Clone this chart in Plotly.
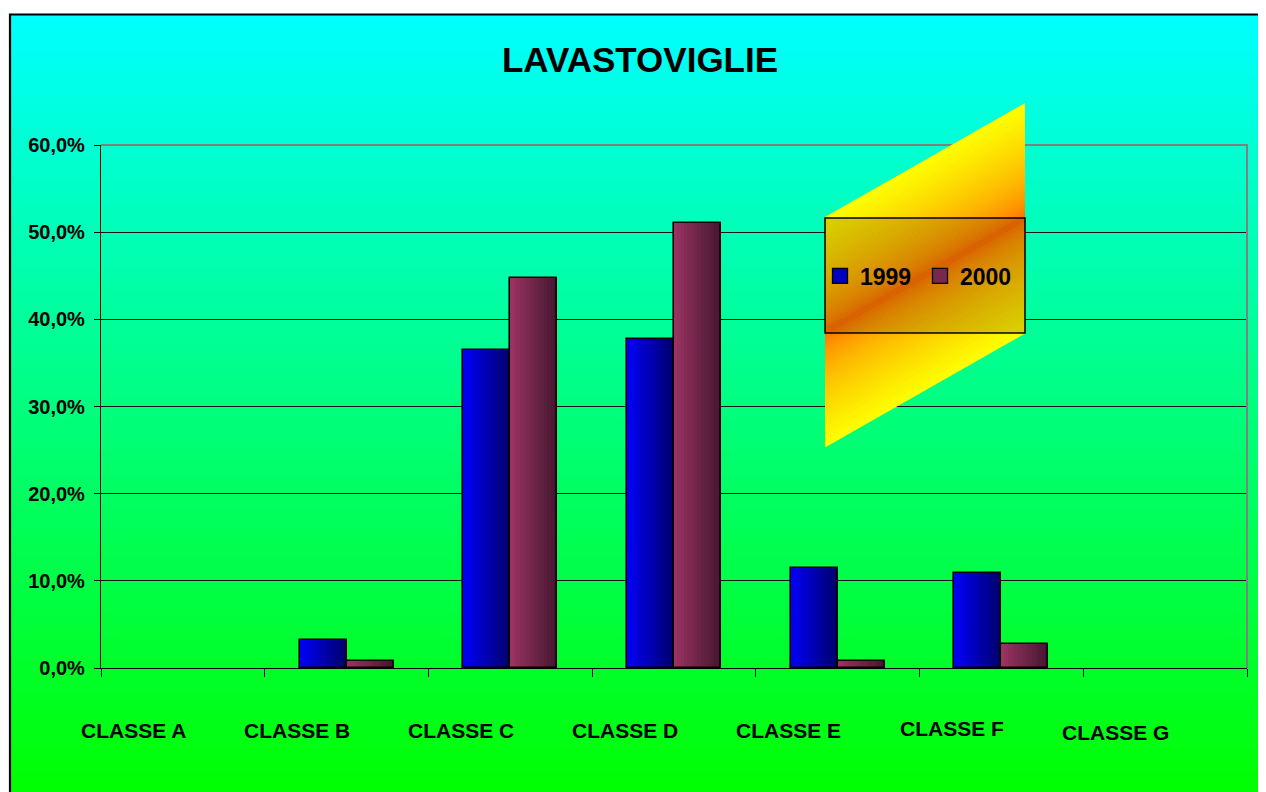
import plotly.graph_objects as go

# ---------------- data ----------------
categories = ["CLASSE A", "CLASSE B", "CLASSE C", "CLASSE D", "CLASSE E", "CLASSE F", "CLASSE G"]
series_names = ["1999", "2000"]
values_1999 = [0.0, 3.2, 36.5, 37.8, 11.5, 10.9, 0.0]
values_2000 = [0.0, 0.8, 44.7, 51.0, 0.8, 2.8, 0.0]
y_tick_values = [0, 10, 20, 30, 40, 50, 60]
title_text = "LAVASTOVIGLIE"

# ---------------- geometry / style ----------------
OFF = 8  # page body margin
W, H = 1266 - OFF, 792 - OFF
ML, MR, MT, MB = 101 - OFF, 19, 145 - OFF, 124
PW, PH = W - ML - MR, H - MT - MB


def px(x):  # reference screen x -> paper
    return (x - OFF - ML) / PW


def py(y):  # reference screen y -> paper
    return (H - MB - (y - OFF)) / PH


FONT = "Liberation Sans, Arial, sans-serif"

fig = go.Figure()

# --- bars with horizontal gradient (strips) ---
bar_w = 0.287
N_STRIPS = 14
series = [
    (values_1999, (0, 0, 250), (0, 0, 105), -bar_w),
    (values_2000, (155, 52, 100), (68, 22, 46), 0.0),
]


def mix(c0, c1, t):
    return "rgb(%d,%d,%d)" % tuple(round(a + (b - a) * t) for a, b in zip(c0, c1))


for vals, c0, c1, base in series:
    yv = [v if v else None for v in vals]
    for k in range(N_STRIPS):
        t = (k + 0.5) / N_STRIPS
        extra = 0.004 if k < N_STRIPS - 1 else 0.0
        fig.add_bar(
            x=categories, y=yv,
            width=bar_w / N_STRIPS + extra,
            offset=base + k * bar_w / N_STRIPS,
            marker=dict(color=mix(c0, c1, t), line=dict(width=0)),
            showlegend=False, hoverinfo="skip",
        )
    fig.add_bar(
        x=categories, y=yv, width=bar_w, offset=base,
        marker=dict(color="rgba(0,0,0,0)", line=dict(color="black", width=1.6)),
        showlegend=False, hoverinfo="skip",
    )

# legend entries
for name, (vals, c0, c1, base) in zip(series_names, series):
    fig.add_scatter(
        x=[None], y=[None], name=name, mode="markers",
        marker=dict(symbol="square", size=15, color=mix(c0, c1, 0.4),
                    line=dict(color="black", width=1.3)),
        showlegend=True,
    )

shapes = []

# --- background vertical gradient (cyan -> green) ---
NB = 130
top_px, bot_px = 14, 794
for i in range(NB):
    y0 = top_px + (bot_px - top_px) * i / NB
    y1 = top_px + (bot_px - top_px) * (i + 1) / NB + 0.8
    t = (i + 0.5) / NB
    blue = round(255 * (1 - t))
    shapes.append(dict(
        type="rect", xref="paper", yref="paper",
        x0=px(10), x1=px(1280), y0=py(y1), y1=py(y0),
        fillcolor="rgb(0,255,%d)" % blue, line=dict(width=0), layer="below",
    ))

# outer chart frame (left + top edges visible)
shapes.append(dict(
    type="path", xref="paper", yref="paper",
    path="M %f,%f L %f,%f L %f,%f" % (px(10), py(800), px(10), py(14.5), px(1280), py(14.5)),
    line=dict(color="black", width=2.2), layer="below",
))

# plot area border top/right in grey
shapes.append(dict(
    type="path", xref="paper", yref="paper",
    path="M 0,1 L 1,1 L 1,0",
    line=dict(color="#808080", width=2), layer="above",
))

# --- yellow/orange parallelogram behind legend ---
NP = 60
pl, pr = 825, 1025
top_l, top_r, span = 217, 103, 230
for k in range(NP):
    d0 = span * k / NP
    d1 = span * (k + 1) / NP + 0.6
    t = (k + 0.5) / NP
    c = abs(t - 0.5) * 2
    g = round(100 + 155 * min(1.0, c ** 0.6))
    path = "M %f,%f L %f,%f L %f,%f L %f,%f Z" % (
        px(pl), py(top_l + d0), px(pr), py(top_r + d0),
        px(pr), py(top_r + d1), px(pl), py(top_l + d1))
    shapes.append(dict(
        type="path", xref="paper", yref="paper", path=path,
        fillcolor="rgb(255,%d,0)" % g, line=dict(width=0), layer="above",
    ))

# legend box
shapes.append(dict(
    type="rect", xref="paper", yref="paper",
    x0=px(825), x1=px(1025), y0=py(333), y1=py(218),
    fillcolor="rgba(70,40,0,0.2)", line=dict(color="black", width=1.5), layer="above",
))

# --- category labels (offset to the left as in the original) ---
label_dy = {"CLASSE F": -2, "CLASSE G": 2}
annotations = []
for cat in categories:
    annotations.append(dict(
        x=cat, xref="x", y=py(730 + label_dy.get(cat, 0)), yref="paper",
        text=cat, showarrow=False, xshift=-49.5, yanchor="middle",
        font=dict(family=FONT, size=21, color="black", weight="bold"),
    ))

tick_text = [("%.1f%%" % v).replace(".", ",") for v in y_tick_values]

fig.update_layout(
    width=W, height=H,
    margin=dict(l=ML, r=MR, t=MT, b=MB),
    paper_bgcolor="white",
    plot_bgcolor="rgba(0,0,0,0)",
    barmode="overlay",
    bargap=0,
    title=dict(
        text=title_text, x=(640 - OFF) / W, xanchor="center", y=1 - (60 - OFF) / H,
        yanchor="middle", yref="container",
        font=dict(family=FONT, size=35, color="black", weight="bold"),
    ),
    xaxis=dict(
        type="category", range=[-0.5, 6.5], showgrid=False,
        showline=True, linecolor="black", linewidth=1.2,
        ticks="outside", tickson="boundaries", ticklen=8, tickcolor="black", tickwidth=1,
        showticklabels=False, zeroline=False,
    ),
    yaxis=dict(
        range=[0, 60], tickvals=y_tick_values, ticktext=tick_text,
        showgrid=True, gridcolor="#111111", gridwidth=1,
        showline=True, linecolor="black", linewidth=1.2,
        ticks="outside", ticklen=6, tickcolor="black", tickwidth=1,
        ticklabelstandoff=5,
        zeroline=False,
        tickfont=dict(family=FONT, size=20, color="black", weight="bold"),
    ),
    legend=dict(
        orientation="h", x=px(820), xanchor="left", y=py(276), yanchor="middle",
        bgcolor="rgba(0,0,0,0)", borderwidth=0,
        font=dict(family=FONT, size=23, color="black", weight="bold"),
        itemwidth=30, entrywidth=55, entrywidthmode="pixels", traceorder="normal",
    ),
    shapes=shapes,
    annotations=annotations,
    showlegend=True,
)

fig.write_html("out.html")
